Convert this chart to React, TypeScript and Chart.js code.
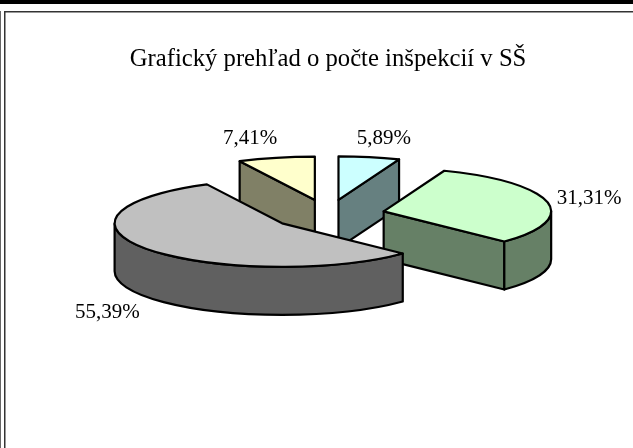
import React, { useEffect, useRef } from "react";
import { Chart, registerables } from "chart.js";

Chart.register(...registerables);

const titleText = "Grafický prehľad o počte inšpekcií v SŠ";
const categories = ["A", "B", "C", "D"];
const shares = [5.89, 31.31, 55.39, 7.41];
const topColors = ["#CCFFFF", "#CCFFCC", "#C0C0C0", "#FFFFCC"];
const wallColors = ["#668080", "#668066", "#606060", "#808066"];
const labelShifts = [
  [14.5, -19],
  [42, -3],
  [-40, 63],
  [-26, -19],
];

const RADIUS = 167.5;
const SQUASH = 0.26;
const EXPLODE = 57;
const DEPTH = 48;
const LINE = 2.2;

const piePlugin = {
  id: "pie3d",
  afterDatasetsUpdate(chart: any) {
    const arcs = chart.getDatasetMeta(0).data;
    arcs.forEach((a: any) => {
      const mid = (a.startAngle + a.endAngle) / 2;
      a.x += Math.cos(mid) * EXPLODE;
      a.y += Math.sin(mid) * EXPLODE;
    });
  },
  beforeDraw(chart: any) {
    const ctx = chart.ctx;
    ctx.save();
    ctx.fillStyle = "#ffffff";
    ctx.fillRect(0, 0, chart.width, chart.height);
    ctx.fillStyle = "#000000";
    ctx.fillRect(0, 0, chart.width, 4);
    ctx.fillStyle = "#333333";
    ctx.fillRect(4, 11, chart.width - 4, 1.5);
    ctx.fillRect(4, 11, 1.5, chart.height - 11);
    ctx.fillStyle = "#666666";
    ctx.fillRect(0, 11, 1, chart.height - 11);
    ctx.restore();
  },
  beforeDatasetsDraw(chart: any) {
    const ctx = chart.ctx;
    const arcs: any[] = chart.getDatasetMeta(0).data;
    const cy = (chart.chartArea.top + chart.chartArea.bottom) / 2;
    const sy = (y: number) => cy + (y - cy) * SQUASH;

    const order = arcs
      .map((a, i) => ({ a, i }))
      .sort((p, q) => p.a.y - q.a.y);

    ctx.save();
    ctx.lineWidth = LINE;
    ctx.lineJoin = "round";
    ctx.strokeStyle = "#000000";
    for (const { a, i } of order) {
      ctx.fillStyle = wallColors[i];
      const ax = a.x;
      const ay = sy(a.y);
      const radial = (angle: number) => {
        const ex = ax + Math.cos(angle) * RADIUS;
        const ey = ay + Math.sin(angle) * RADIUS * SQUASH;
        ctx.beginPath();
        ctx.moveTo(ax, ay);
        ctx.lineTo(ex, ey);
        ctx.lineTo(ex, ey + DEPTH);
        ctx.lineTo(ax, ay + DEPTH);
        ctx.closePath();
        ctx.fill();
        ctx.stroke();
      };
      if (Math.cos(a.startAngle) < -1e-6) radial(a.startAngle);
      if (Math.cos(a.endAngle) > 1e-6) radial(a.endAngle);
      const from = Math.max(a.startAngle, 0);
      const to = Math.min(a.endAngle, Math.PI);
      if (to > from) {
        ctx.beginPath();
        ctx.ellipse(ax, ay, RADIUS, RADIUS * SQUASH, 0, from, to);
        ctx.ellipse(ax, ay + DEPTH, RADIUS, RADIUS * SQUASH, 0, to, from, true);
        ctx.closePath();
        ctx.fill();
        ctx.stroke();
      }
    }
    ctx.restore();

    ctx.save();
    ctx.translate(0, cy);
    ctx.scale(1, SQUASH);
    ctx.translate(0, -cy);
  },
  afterDatasetsDraw(chart: any) {
    const ctx = chart.ctx;
    ctx.restore();
    const arcs: any[] = chart.getDatasetMeta(0).data;
    const cy = (chart.chartArea.top + chart.chartArea.bottom) / 2;
    ctx.save();
    ctx.lineWidth = LINE;
    ctx.lineJoin = "round";
    ctx.strokeStyle = "#000000";
    arcs.forEach((a: any, i: number) => {
      const ax = a.x;
      const ay = cy + (a.y - cy) * SQUASH;
      ctx.beginPath();
      ctx.moveTo(ax, ay);
      ctx.ellipse(ax, ay, RADIUS, RADIUS * SQUASH, 0, a.startAngle, a.endAngle);
      ctx.closePath();
      ctx.stroke();

      const mid = (a.startAngle + a.endAngle) / 2;
      const lx = ax + Math.cos(mid) * RADIUS + labelShifts[i][0];
      const ly = ay + Math.sin(mid) * RADIUS * SQUASH + labelShifts[i][1];
      ctx.fillStyle = "#000000";
      ctx.font = '21px "Liberation Serif"';
      ctx.textAlign = "center";
      ctx.textBaseline = "middle";
      ctx.fillText(shares[i].toFixed(2).replace(".", ",") + "%", lx, ly);
    });
    ctx.restore();
  },
};

export default function App() {
  const ref = useRef<HTMLCanvasElement>(null);
  useEffect(() => {
    document.body.style.margin = "0";
    const chart = new Chart(ref.current as HTMLCanvasElement, {
      type: "pie",
      data: {
        labels: categories,
        datasets: [
          {
            data: shares,
            backgroundColor: topColors,
            borderWidth: 0,
          },
        ],
      },
      options: {
        responsive: false,
        animation: false,
        radius: RADIUS,
        rotation: 0,
        layout: { padding: { left: 23, bottom: 93.6 } },
        plugins: {
          legend: { display: false },
          tooltip: { enabled: false },
          title: {
            display: true,
            text: titleText,
            color: "#000000",
            font: { family: '"Liberation Serif"', size: 24.7, weight: "normal", lineHeight: 1.2 },
            padding: { top: 45, bottom: 0 },
          },
        },
      } as any,
      plugins: [piePlugin],
    });
    return () => chart.destroy();
  }, []);
  return (
    <canvas
      ref={ref}
      width={633}
      height={448}
      style={{ display: "block", width: 633, height: 448 }}
    />
  );
}
